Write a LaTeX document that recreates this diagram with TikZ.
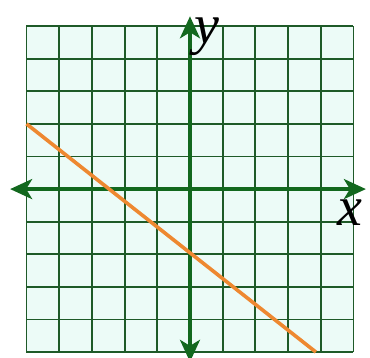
\documentclass[tikz,border=0pt]{standalone}
\usepackage{fontspec}
\setmainfont{Liberation Serif}
\usetikzlibrary{arrows.meta}
\definecolor{bgc}{RGB}{236,251,247}
\definecolor{gridc}{RGB}{30,90,40}
\definecolor{axisc}{RGB}{18,104,30}
\definecolor{linec}{RGB}{238,136,48}
\tikzset{
  gridline/.style={draw=gridc, line width=1.9pt},
  axisline/.style={draw=axisc, line width=3.6pt, -{Stealth[length=22pt,width=20pt,inset=6pt]}},
  graphline/.style={draw=linec, line width=3.6pt},
  axislabel/.style={inner sep=0pt, font=\fontsize{56}{56}\selectfont\itshape}
}
\begin{document}
\begin{tikzpicture}[x=32.7pt,y=32.6pt]
\useasboundingbox (-5.81,-5.153) rectangle (5.505,5.80);
\fill[white] (-5.81,-5.153) rectangle (5.505,5.80);
\fill[bgc] (-5,-5) rectangle (5,5);
\draw[gridline, step=1] (-5,-5) grid (5,5);
\coordinate (xl) at (-5.5,0);
\coordinate (xr) at (5.38,0);
\coordinate (yb) at (0,-5.3);
\coordinate (yt) at (0,5.3);
\coordinate (o) at (0,0);
\draw[axisline] (o) -- (xl);
\draw[axisline] (o) -- (xr);
\draw[axisline] (o) -- (yb);
\draw[axisline] (o) -- (yt);
\coordinate (p1) at (-5,2);
\coordinate (p2) at (3.85,-5);
\draw[graphline] (p1) -- (p2);
\node[axislabel, anchor=base west] (ylab) at (0.14,4.47) {y};
\node[axislabel, anchor=base west] (xlab) at (4.52,-1.12) {x};
\end{tikzpicture}
\end{document}
